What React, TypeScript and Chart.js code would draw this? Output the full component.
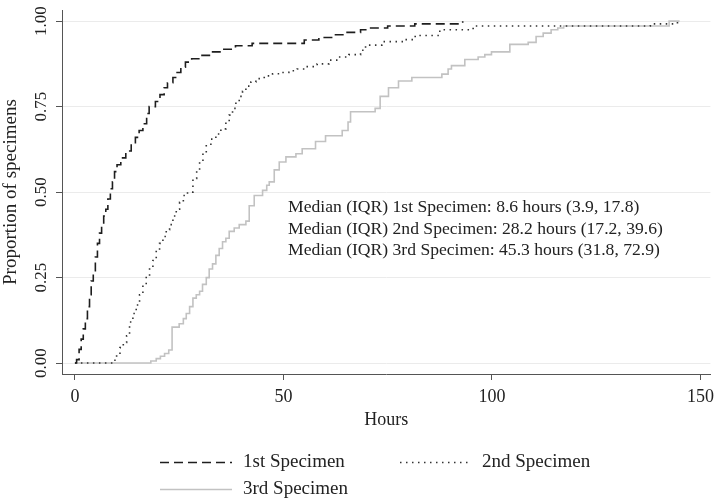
import React, { useEffect, useRef } from "react";
import { Chart, registerables } from "chart.js";

Chart.register(...registerables);

const FONT = "'Liberation Serif', 'Times New Roman', Times, serif";

// 1st specimen: cumulative proportion by hours
const hours1 = [0, 0.4, 1.0, 1.5, 2.0, 2.5, 3.0, 3.5, 3.9, 4.4, 4.9, 5.4, 5.9, 6.4, 6.9, 7.4, 7.9, 8.5, 9.0, 9.5, 10.1, 11.0, 12.2, 13.5, 14.5, 15.4, 16.3, 17.2, 17.8, 19.3, 20.4, 21.4, 22.2, 23.5, 24.5, 25.4, 26.5, 28.0, 30.0, 32.5, 35.5, 38.5, 42.5, 55.0, 58.5, 62.0, 65.0, 68.5, 70.5, 75.0, 81.5, 93.0];
const prop1 = [0, 0.01, 0.04, 0.07, 0.10, 0.13, 0.165, 0.20, 0.24, 0.27, 0.31, 0.35, 0.38, 0.40, 0.43, 0.45, 0.48, 0.51, 0.53, 0.56, 0.58, 0.60, 0.62, 0.64, 0.66, 0.68, 0.70, 0.73, 0.75, 0.765, 0.785, 0.805, 0.82, 0.835, 0.85, 0.865, 0.88, 0.89, 0.90, 0.91, 0.918, 0.928, 0.935, 0.945, 0.952, 0.96, 0.967, 0.975, 0.98, 0.986, 0.992, 1.0];

// 2nd specimen
const hours2 = [0, 8.2, 9.0, 10.0, 10.8, 11.6, 12.4, 13.1, 13.9, 14.7, 15.5, 16.3, 17.1, 17.9, 18.7, 19.5, 20.3, 21.1, 21.9, 22.7, 23.5, 24.3, 25.1, 26.0, 27.0, 28.3, 29.2, 29.9, 30.7, 31.5, 32.6, 33.8, 35.0, 36.2, 37.0, 37.8, 38.6, 39.4, 40.2, 41.0, 42.2, 43.4, 45.4, 47.4, 49.4, 51.3, 53.3, 55.3, 58.1, 60.9, 63.3, 65.7, 68.5, 69.7, 73.6, 79.2, 81.6, 87.5, 95.5, 138.0, 144.5];
const prop2 = [0, 0, 0.008, 0.025, 0.045, 0.06, 0.08, 0.12, 0.145, 0.17, 0.20, 0.23, 0.255, 0.28, 0.30, 0.33, 0.35, 0.37, 0.39, 0.405, 0.43, 0.45, 0.47, 0.49, 0.50, 0.54, 0.565, 0.59, 0.615, 0.64, 0.655, 0.67, 0.685, 0.705, 0.725, 0.745, 0.765, 0.78, 0.795, 0.81, 0.822, 0.832, 0.84, 0.846, 0.85, 0.855, 0.86, 0.867, 0.875, 0.886, 0.895, 0.902, 0.915, 0.93, 0.94, 0.946, 0.958, 0.975, 0.986, 0.992, 1.0];

// 3rd specimen
const hours3 = [0, 17.1, 18.2, 19.5, 20.5, 21.5, 22.5, 23.3, 25.0, 26.0, 26.7, 27.5, 28.3, 29.1, 29.9, 30.6, 31.5, 32.2, 33.0, 33.8, 34.6, 35.4, 36.2, 37.0, 38.2, 39.4, 41.0, 41.8, 43.0, 45.0, 46.0, 46.6, 47.8, 49.0, 50.6, 53.0, 54.5, 57.7, 60.1, 64.1, 65.5, 66.1, 72.0, 73.2, 75.2, 77.6, 80.8, 88.0, 89.5, 90.3, 93.5, 96.7, 98.3, 99.9, 104.3, 108.7, 110.6, 112.3, 114.2, 115.8, 117.2, 142.5, 145.0];
const prop3 = [0, 0, 0.006, 0.013, 0.02, 0.028, 0.038, 0.105, 0.115, 0.13, 0.145, 0.165, 0.19, 0.20, 0.21, 0.23, 0.25, 0.275, 0.29, 0.315, 0.335, 0.355, 0.365, 0.385, 0.395, 0.405, 0.415, 0.46, 0.49, 0.505, 0.52, 0.53, 0.565, 0.588, 0.603, 0.612, 0.627, 0.648, 0.665, 0.68, 0.705, 0.735, 0.745, 0.78, 0.805, 0.825, 0.835, 0.845, 0.86, 0.87, 0.888, 0.895, 0.902, 0.91, 0.932, 0.938, 0.955, 0.965, 0.975, 0.98, 0.986, 1.0, 1.0];

const seriesLabels = ["1st Specimen", "2nd Specimen", "3rd Specimen"];
const xTicks = [0, 50, 100, 150];
const yTicks = [0, 0.25, 0.5, 0.75, 1];
const annotationLines = [
  "Median (IQR) 1st Specimen: 8.6 hours (3.9, 17.8)",
  "Median (IQR) 2nd Specimen: 28.2 hours (17.2, 39.6)",
  "Median (IQR) 3rd Specimen: 45.3 hours (31.8, 72.9)",
];

const COLORS = ["#1e1e1e", "#333333", "#c2c2c2"];
const DASHES = [[9, 5], [1.5, 4.5], []];

export default function App() {
  const ref = useRef<HTMLCanvasElement>(null);

  useEffect(() => {
    const toPts = (xs: number[], ys: number[]) => xs.map((x, i) => ({ x, y: ys[i] }));

    const extrasPlugin = {
      id: "extras",
      afterDraw(chart: any) {
        const ctx = chart.ctx as CanvasRenderingContext2D;
        const xs = chart.scales.x;
        const ys = chart.scales.y;
        ctx.save();
        // annotation text
        ctx.fillStyle = "#222";
        ctx.font = `17.6px ${FONT}`;
        ctx.textAlign = "left";
        ctx.textBaseline = "middle";
        const ax = xs.getPixelForValue(51.1);
        const ay = ys.getPixelForValue(0.455);
        annotationLines.forEach((t, i) => ctx.fillText(t, ax, ay + i * 21.5));

        // legend
        const rows = [
          { x0: 160, x1: 232, tx: 243, y: 462 },
          { x0: 400, x1: 468, tx: 482, y: 462 },
          { x0: 160, x1: 232, tx: 243, y: 489 },
        ];
        ctx.font = `19px ${FONT}`;
        rows.forEach((r, i) => {
          ctx.beginPath();
          ctx.setLineDash(DASHES[i]);
          ctx.strokeStyle = COLORS[i];
          ctx.lineWidth = 1.5;
          ctx.moveTo(r.x0, r.y + 0.5);
          ctx.lineTo(r.x1, r.y + 0.5);
          ctx.stroke();
          ctx.setLineDash([]);
          ctx.fillStyle = "#222";
          ctx.fillText(seriesLabels[i], r.tx, r.y);
        });
        ctx.restore();
      },
    };

    const chart = new Chart(ref.current as HTMLCanvasElement, {
      type: "line",
      data: {
        datasets: [
          { label: seriesLabels[0], data: toPts(hours1, prop1), borderColor: COLORS[0], borderDash: DASHES[0], borderWidth: 1.6, pointRadius: 0, stepped: true, fill: false },
          { label: seriesLabels[1], data: toPts(hours2, prop2), borderColor: COLORS[1], borderDash: DASHES[1], borderWidth: 1.6, pointRadius: 0, stepped: true, fill: false },
          { label: seriesLabels[2], data: toPts(hours3, prop3), borderColor: COLORS[2], borderDash: DASHES[2], borderWidth: 1.6, pointRadius: 0, stepped: true, fill: false },
        ],
      },
      options: {
        animation: false,
        responsive: false,
        layout: { padding: { left: 0, top: 7, right: 7, bottom: 72 } },
        plugins: { legend: { display: false }, tooltip: { enabled: false } },
        scales: {
          x: {
            type: "linear",
            min: -3.1,
            max: 152.4,
            afterBuildTicks: (s: any) => {
              s.ticks = xTicks.map((v) => ({ value: v }));
            },
            afterFit: (s: any) => {
              s.height = 57;
            },
            grid: { display: true, drawOnChartArea: false, tickLength: 6, tickColor: "#555", tickWidth: 1 },
            border: { color: "#555", width: 1 },
            ticks: { font: { family: FONT, size: 18 }, color: "#222", padding: 6, maxRotation: 0, minRotation: 0 },
            title: { display: true, text: "Hours", font: { family: FONT, size: 18 }, color: "#222", padding: 0 },
          },
          y: {
            type: "linear",
            min: -0.032,
            max: 1.032,
            afterBuildTicks: (s: any) => {
              s.ticks = yTicks.map((v) => ({ value: v }));
            },
            afterFit: (s: any) => {
              s.width = 62;
            },
            grid: { color: "#ebebeb", lineWidth: 1, tickLength: 6, tickColor: "#555", tickWidth: 1 },
            border: { color: "#555", width: 1 },
            ticks: {
              font: { family: FONT, size: 17 },
              color: "#222",
              padding: 0,
              minRotation: 90,
              maxRotation: 90,
              crossAlign: "center",
              callback: (v: any) => Number(v).toFixed(2),
            },
            title: { display: true, text: "Proportion of specimens", font: { family: FONT, size: 19 }, color: "#222", padding: 0 },
          },
        },
      },
      plugins: [extrasPlugin],
    } as any);

    return () => chart.destroy();
  }, []);

  return (
    <div style={{ position: "absolute", left: 0, top: 0, width: 720, height: 503, background: "#fff" }}>
      <canvas ref={ref} width={720} height={503} style={{ display: "block", width: 720, height: 503 }} />
    </div>
  );
}
